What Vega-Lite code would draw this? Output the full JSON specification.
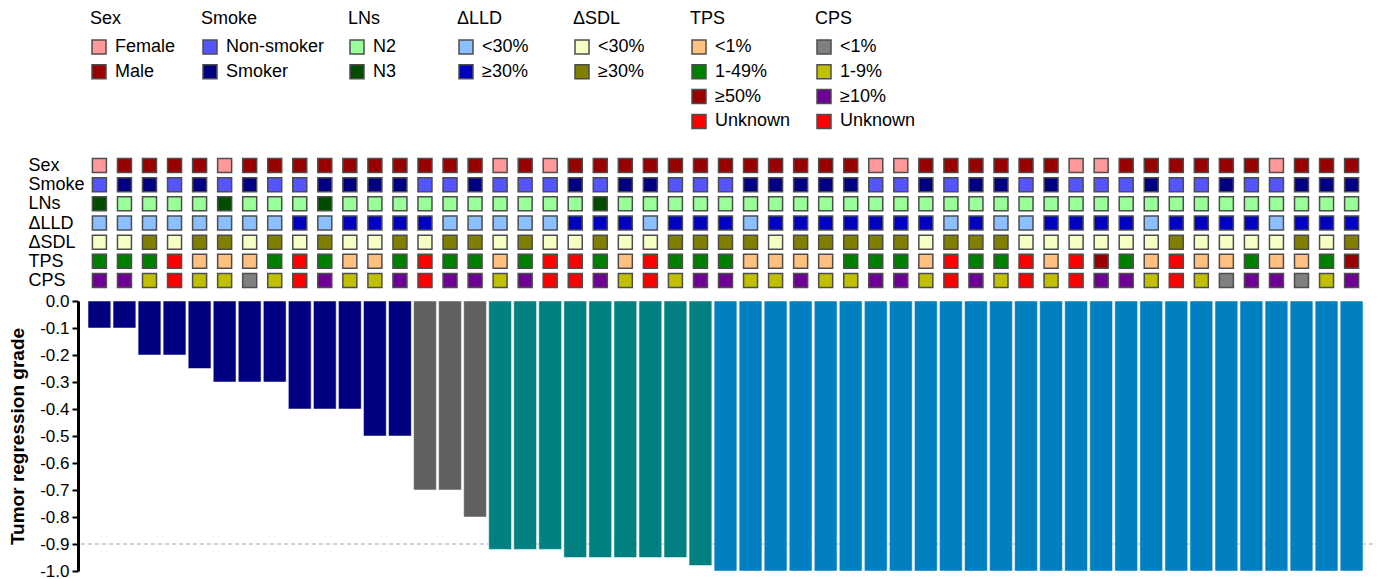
{
  "$schema": "https://vega.github.io/schema/vega-lite/v6.json",
  "padding": {"left": 8, "top": 10, "right": 0, "bottom": 0},
  "spacing": 1,
  "config": {
    "font": "Liberation Sans",
    "view": {"stroke": null},
    "axis": {"domain": true, "ticks": true, "domainColor": "black", "tickColor": "black"},
    "legend": {
      "orient": "none",
      "padding": 0,
      "titleFontSize": 18,
      "titleFontWeight": "normal",
      "titleColor": "black",
      "titlePadding": 10,
      "labelFontSize": 18,
      "labelColor": "black",
      "labelOffset": 7,
      "labelLimit": 200,
      "rowPadding": 4.8,
      "symbolType": "square",
      "symbolSize": 196,
      "symbolStrokeColor": "#4d4d4d",
      "symbolStrokeWidth": 1.5,
      "symbolOpacity": 1
    }
  },
  "data": {
    "values": [
      {"id": 1, "grade": -0.1, "resp": "Non-MPR (<60%)", "Sex": "Female", "Smoke": "Non-smoker", "LNs": "N3", "LLD": "<30%", "SDL": "<30%", "TPS": "1-49%", "CPS": "≥10%"},
      {"id": 2, "grade": -0.1, "resp": "Non-MPR (<60%)", "Sex": "Male", "Smoke": "Smoker", "LNs": "N2", "LLD": "<30%", "SDL": "<30%", "TPS": "1-49%", "CPS": "≥10%"},
      {"id": 3, "grade": -0.2, "resp": "Non-MPR (<60%)", "Sex": "Male", "Smoke": "Smoker", "LNs": "N2", "LLD": "<30%", "SDL": "≥30%", "TPS": "1-49%", "CPS": "1-9%"},
      {"id": 4, "grade": -0.2, "resp": "Non-MPR (<60%)", "Sex": "Male", "Smoke": "Non-smoker", "LNs": "N2", "LLD": "<30%", "SDL": "<30%", "TPS": "Unknown", "CPS": "Unknown"},
      {"id": 5, "grade": -0.25, "resp": "Non-MPR (<60%)", "Sex": "Male", "Smoke": "Smoker", "LNs": "N2", "LLD": "<30%", "SDL": "≥30%", "TPS": "<1%", "CPS": "1-9%"},
      {"id": 6, "grade": -0.3, "resp": "Non-MPR (<60%)", "Sex": "Female", "Smoke": "Non-smoker", "LNs": "N3", "LLD": "<30%", "SDL": "≥30%", "TPS": "<1%", "CPS": "1-9%"},
      {"id": 7, "grade": -0.3, "resp": "Non-MPR (<60%)", "Sex": "Male", "Smoke": "Smoker", "LNs": "N2", "LLD": "<30%", "SDL": "<30%", "TPS": "<1%", "CPS": "<1%"},
      {"id": 8, "grade": -0.3, "resp": "Non-MPR (<60%)", "Sex": "Male", "Smoke": "Non-smoker", "LNs": "N2", "LLD": "<30%", "SDL": "≥30%", "TPS": "1-49%", "CPS": "1-9%"},
      {"id": 9, "grade": -0.4, "resp": "Non-MPR (<60%)", "Sex": "Male", "Smoke": "Non-smoker", "LNs": "N2", "LLD": "≥30%", "SDL": "<30%", "TPS": "Unknown", "CPS": "Unknown"},
      {"id": 10, "grade": -0.4, "resp": "Non-MPR (<60%)", "Sex": "Male", "Smoke": "Smoker", "LNs": "N3", "LLD": "<30%", "SDL": "≥30%", "TPS": "1-49%", "CPS": "≥10%"},
      {"id": 11, "grade": -0.4, "resp": "Non-MPR (<60%)", "Sex": "Male", "Smoke": "Smoker", "LNs": "N2", "LLD": "≥30%", "SDL": "<30%", "TPS": "<1%", "CPS": "1-9%"},
      {"id": 12, "grade": -0.5, "resp": "Non-MPR (<60%)", "Sex": "Male", "Smoke": "Smoker", "LNs": "N2", "LLD": "≥30%", "SDL": "<30%", "TPS": "<1%", "CPS": "1-9%"},
      {"id": 13, "grade": -0.5, "resp": "Non-MPR (<60%)", "Sex": "Male", "Smoke": "Smoker", "LNs": "N2", "LLD": "≥30%", "SDL": "≥30%", "TPS": "1-49%", "CPS": "≥10%"},
      {"id": 14, "grade": -0.7, "resp": "Non-MPR (60-89%)", "Sex": "Male", "Smoke": "Non-smoker", "LNs": "N2", "LLD": "≥30%", "SDL": "<30%", "TPS": "Unknown", "CPS": "Unknown"},
      {"id": 15, "grade": -0.7, "resp": "Non-MPR (60-89%)", "Sex": "Male", "Smoke": "Non-smoker", "LNs": "N2", "LLD": "<30%", "SDL": "≥30%", "TPS": "1-49%", "CPS": "≥10%"},
      {"id": 16, "grade": -0.8, "resp": "Non-MPR (60-89%)", "Sex": "Male", "Smoke": "Smoker", "LNs": "N2", "LLD": "<30%", "SDL": "≥30%", "TPS": "1-49%", "CPS": "≥10%"},
      {"id": 17, "grade": -0.92, "resp": "MPR", "Sex": "Female", "Smoke": "Non-smoker", "LNs": "N2", "LLD": "<30%", "SDL": "<30%", "TPS": "<1%", "CPS": "1-9%"},
      {"id": 18, "grade": -0.92, "resp": "MPR", "Sex": "Male", "Smoke": "Non-smoker", "LNs": "N2", "LLD": "<30%", "SDL": "≥30%", "TPS": "1-49%", "CPS": "≥10%"},
      {"id": 19, "grade": -0.92, "resp": "MPR", "Sex": "Female", "Smoke": "Non-smoker", "LNs": "N2", "LLD": "<30%", "SDL": "<30%", "TPS": "Unknown", "CPS": "Unknown"},
      {"id": 20, "grade": -0.95, "resp": "MPR", "Sex": "Male", "Smoke": "Smoker", "LNs": "N2", "LLD": "≥30%", "SDL": "<30%", "TPS": "Unknown", "CPS": "Unknown"},
      {"id": 21, "grade": -0.95, "resp": "MPR", "Sex": "Male", "Smoke": "Non-smoker", "LNs": "N3", "LLD": "≥30%", "SDL": "≥30%", "TPS": "1-49%", "CPS": "≥10%"},
      {"id": 22, "grade": -0.95, "resp": "MPR", "Sex": "Male", "Smoke": "Smoker", "LNs": "N2", "LLD": "≥30%", "SDL": "<30%", "TPS": "<1%", "CPS": "1-9%"},
      {"id": 23, "grade": -0.95, "resp": "MPR", "Sex": "Male", "Smoke": "Smoker", "LNs": "N2", "LLD": "<30%", "SDL": "<30%", "TPS": "Unknown", "CPS": "Unknown"},
      {"id": 24, "grade": -0.95, "resp": "MPR", "Sex": "Male", "Smoke": "Non-smoker", "LNs": "N2", "LLD": "≥30%", "SDL": "≥30%", "TPS": "1-49%", "CPS": "1-9%"},
      {"id": 25, "grade": -0.98, "resp": "MPR", "Sex": "Male", "Smoke": "Non-smoker", "LNs": "N2", "LLD": "≥30%", "SDL": "≥30%", "TPS": "1-49%", "CPS": "≥10%"},
      {"id": 26, "grade": -1.0, "resp": "pCR", "Sex": "Male", "Smoke": "Non-smoker", "LNs": "N2", "LLD": "≥30%", "SDL": "≥30%", "TPS": "1-49%", "CPS": "≥10%"},
      {"id": 27, "grade": -1.0, "resp": "pCR", "Sex": "Male", "Smoke": "Smoker", "LNs": "N2", "LLD": "<30%", "SDL": "≥30%", "TPS": "<1%", "CPS": "1-9%"},
      {"id": 28, "grade": -1.0, "resp": "pCR", "Sex": "Male", "Smoke": "Smoker", "LNs": "N2", "LLD": "≥30%", "SDL": "<30%", "TPS": "<1%", "CPS": "1-9%"},
      {"id": 29, "grade": -1.0, "resp": "pCR", "Sex": "Male", "Smoke": "Smoker", "LNs": "N2", "LLD": "≥30%", "SDL": "≥30%", "TPS": "<1%", "CPS": "≥10%"},
      {"id": 30, "grade": -1.0, "resp": "pCR", "Sex": "Male", "Smoke": "Smoker", "LNs": "N2", "LLD": "≥30%", "SDL": "≥30%", "TPS": "<1%", "CPS": "1-9%"},
      {"id": 31, "grade": -1.0, "resp": "pCR", "Sex": "Male", "Smoke": "Smoker", "LNs": "N2", "LLD": "≥30%", "SDL": "≥30%", "TPS": "1-49%", "CPS": "1-9%"},
      {"id": 32, "grade": -1.0, "resp": "pCR", "Sex": "Female", "Smoke": "Non-smoker", "LNs": "N2", "LLD": "≥30%", "SDL": "≥30%", "TPS": "1-49%", "CPS": "≥10%"},
      {"id": 33, "grade": -1.0, "resp": "pCR", "Sex": "Female", "Smoke": "Non-smoker", "LNs": "N2", "LLD": "≥30%", "SDL": "≥30%", "TPS": "1-49%", "CPS": "≥10%"},
      {"id": 34, "grade": -1.0, "resp": "pCR", "Sex": "Male", "Smoke": "Smoker", "LNs": "N2", "LLD": "≥30%", "SDL": "<30%", "TPS": "<1%", "CPS": "1-9%"},
      {"id": 35, "grade": -1.0, "resp": "pCR", "Sex": "Male", "Smoke": "Non-smoker", "LNs": "N2", "LLD": "<30%", "SDL": "≥30%", "TPS": "Unknown", "CPS": "Unknown"},
      {"id": 36, "grade": -1.0, "resp": "pCR", "Sex": "Male", "Smoke": "Smoker", "LNs": "N2", "LLD": "≥30%", "SDL": "≥30%", "TPS": "1-49%", "CPS": "≥10%"},
      {"id": 37, "grade": -1.0, "resp": "pCR", "Sex": "Male", "Smoke": "Smoker", "LNs": "N2", "LLD": "<30%", "SDL": "≥30%", "TPS": "1-49%", "CPS": "1-9%"},
      {"id": 38, "grade": -1.0, "resp": "pCR", "Sex": "Male", "Smoke": "Non-smoker", "LNs": "N2", "LLD": "<30%", "SDL": "<30%", "TPS": "Unknown", "CPS": "Unknown"},
      {"id": 39, "grade": -1.0, "resp": "pCR", "Sex": "Male", "Smoke": "Smoker", "LNs": "N2", "LLD": "≥30%", "SDL": "<30%", "TPS": "<1%", "CPS": "1-9%"},
      {"id": 40, "grade": -1.0, "resp": "pCR", "Sex": "Female", "Smoke": "Non-smoker", "LNs": "N2", "LLD": "≥30%", "SDL": "<30%", "TPS": "Unknown", "CPS": "Unknown"},
      {"id": 41, "grade": -1.0, "resp": "pCR", "Sex": "Female", "Smoke": "Non-smoker", "LNs": "N2", "LLD": "≥30%", "SDL": "<30%", "TPS": "≥50%", "CPS": "≥10%"},
      {"id": 42, "grade": -1.0, "resp": "pCR", "Sex": "Male", "Smoke": "Non-smoker", "LNs": "N2", "LLD": "≥30%", "SDL": "<30%", "TPS": "1-49%", "CPS": "≥10%"},
      {"id": 43, "grade": -1.0, "resp": "pCR", "Sex": "Male", "Smoke": "Smoker", "LNs": "N2", "LLD": "<30%", "SDL": "<30%", "TPS": "<1%", "CPS": "1-9%"},
      {"id": 44, "grade": -1.0, "resp": "pCR", "Sex": "Male", "Smoke": "Non-smoker", "LNs": "N2", "LLD": "≥30%", "SDL": "≥30%", "TPS": "Unknown", "CPS": "Unknown"},
      {"id": 45, "grade": -1.0, "resp": "pCR", "Sex": "Male", "Smoke": "Non-smoker", "LNs": "N2", "LLD": "≥30%", "SDL": "<30%", "TPS": "<1%", "CPS": "1-9%"},
      {"id": 46, "grade": -1.0, "resp": "pCR", "Sex": "Male", "Smoke": "Smoker", "LNs": "N2", "LLD": "≥30%", "SDL": "<30%", "TPS": "<1%", "CPS": "<1%"},
      {"id": 47, "grade": -1.0, "resp": "pCR", "Sex": "Male", "Smoke": "Non-smoker", "LNs": "N2", "LLD": "≥30%", "SDL": "<30%", "TPS": "1-49%", "CPS": "≥10%"},
      {"id": 48, "grade": -1.0, "resp": "pCR", "Sex": "Female", "Smoke": "Non-smoker", "LNs": "N2", "LLD": "<30%", "SDL": "<30%", "TPS": "<1%", "CPS": "≥10%"},
      {"id": 49, "grade": -1.0, "resp": "pCR", "Sex": "Male", "Smoke": "Smoker", "LNs": "N2", "LLD": "≥30%", "SDL": "≥30%", "TPS": "<1%", "CPS": "<1%"},
      {"id": 50, "grade": -1.0, "resp": "pCR", "Sex": "Male", "Smoke": "Smoker", "LNs": "N2", "LLD": "≥30%", "SDL": "<30%", "TPS": "1-49%", "CPS": "1-9%"},
      {"id": 51, "grade": -1.0, "resp": "pCR", "Sex": "Male", "Smoke": "Smoker", "LNs": "N2", "LLD": "≥30%", "SDL": "≥30%", "TPS": "≥50%", "CPS": "≥10%"}
    ]
  },
  "vconcat": [
    {
      "width": 1295,
      "height": 134,
      "encoding": {
        "x": {
          "field": "id",
          "type": "ordinal",
          "scale": {"type": "band", "paddingInner": 0.09, "paddingOuter": 0.4},
          "axis": null
        },
        "y": {
          "field": "row",
          "type": "nominal",
          "scale": {"domain": ["Sex", "Smoke", "LNs", "LLD", "SDL", "TPS", "CPS"]},
          "axis": {
            "title": null,
            "domain": false,
            "ticks": false,
            "labelAlign": "left",
            "labelPadding": 50,
            "labelFontSize": 18,
            "labelColor": "black",
            "labelExpr": "datum.label == 'LLD' || datum.label == 'SDL' ? 'Δ' + datum.label : datum.label"
          }
        }
      },
      "layer": [
        {
          "transform": [{"fold": ["Sex"], "as": ["row", "level"]}],
          "mark": {"type": "square", "size": 196, "opacity": 1, "filled": true, "stroke": "#4d4d4d", "strokeWidth": 1.5},
          "encoding": {
            "color": {
              "field": "level", "type": "nominal",
              "scale": {"domain": ["Female", "Male"], "range": ["#ff9999", "#990000"]},
              "legend": {"title": "Sex", "legendX": 12, "legendY": -146}
            }
          }
        },
        {
          "transform": [{"fold": ["Smoke"], "as": ["row", "level"]}],
          "mark": {"type": "square", "size": 196, "opacity": 1, "filled": true, "stroke": "#4d4d4d", "strokeWidth": 1.5},
          "encoding": {
            "color": {
              "field": "level", "type": "nominal",
              "scale": {"domain": ["Non-smoker", "Smoker"], "range": ["#5555ff", "#000080"]},
              "legend": {"title": "Smoke", "legendX": 123, "legendY": -146}
            }
          }
        },
        {
          "transform": [{"fold": ["LNs"], "as": ["row", "level"]}],
          "mark": {"type": "square", "size": 196, "opacity": 1, "filled": true, "stroke": "#4d4d4d", "strokeWidth": 1.5},
          "encoding": {
            "color": {
              "field": "level", "type": "nominal",
              "scale": {"domain": ["N2", "N3"], "range": ["#99ff99", "#004d00"]},
              "legend": {"title": "LNs", "legendX": 270, "legendY": -146}
            }
          }
        },
        {
          "transform": [{"fold": ["LLD"], "as": ["row", "level"]}],
          "mark": {"type": "square", "size": 196, "opacity": 1, "filled": true, "stroke": "#4d4d4d", "strokeWidth": 1.5},
          "encoding": {
            "color": {
              "field": "level", "type": "nominal",
              "scale": {"domain": ["<30%", "≥30%"], "range": ["#8cbfff", "#0000c0"]},
              "legend": {"title": "ΔLLD", "legendX": 379, "legendY": -146}
            }
          }
        },
        {
          "transform": [{"fold": ["SDL"], "as": ["row", "level"]}],
          "mark": {"type": "square", "size": 196, "opacity": 1, "filled": true, "stroke": "#4d4d4d", "strokeWidth": 1.5},
          "encoding": {
            "color": {
              "field": "level", "type": "nominal",
              "scale": {"domain": ["<30%", "≥30%"], "range": ["#f5ffc4", "#808000"]},
              "legend": {"title": "ΔSDL", "legendX": 495, "legendY": -146}
            }
          }
        },
        {
          "transform": [{"fold": ["TPS"], "as": ["row", "level"]}],
          "mark": {"type": "square", "size": 196, "opacity": 1, "filled": true, "stroke": "#4d4d4d", "strokeWidth": 1.5},
          "encoding": {
            "color": {
              "field": "level", "type": "nominal",
              "scale": {"domain": ["<1%", "1-49%", "≥50%", "Unknown"], "range": ["#ffc080", "#008000", "#990000", "#ff0000"]},
              "legend": {"title": "TPS", "legendX": 612, "legendY": -146}
            }
          }
        },
        {
          "transform": [{"fold": ["CPS"], "as": ["row", "level"]}],
          "mark": {"type": "square", "size": 196, "opacity": 1, "filled": true, "stroke": "#4d4d4d", "strokeWidth": 1.5},
          "encoding": {
            "color": {
              "field": "level", "type": "nominal",
              "scale": {"domain": ["<1%", "1-9%", "≥10%", "Unknown"], "range": ["#808080", "#c0c000", "#6f0096", "#ff0000"]},
              "legend": {"title": "CPS", "legendX": 737, "legendY": -146}
            }
          }
        }
      ],
      "resolve": {"scale": {"color": "independent"}, "legend": {"color": "independent"}}
    },
    {
      "width": 1295,
      "height": 270,
      "layer": [
        {
          "data": {"values": [{"threshold": -0.9}]},
          "mark": {"type": "rule", "color": "#a6a6a6", "strokeDash": [4, 3], "strokeWidth": 1},
          "encoding": {
            "y": {
              "field": "threshold",
              "type": "quantitative",
              "scale": {"domain": [-1, 0], "nice": false},
              "axis": {
                "title": "Tumor regression grade",
                "titleFontSize": 19,
                "titleFontWeight": "bold",
                "titleColor": "black",
                "titlePadding": 12,
                "values": [0, -0.1, -0.2, -0.3, -0.4, -0.5, -0.6, -0.7, -0.8, -0.9, -1],
                "labelExpr": "datum.value < 0 ? '-' + format(-datum.value, '.1f') : format(datum.value, '.1f')",
                "labelFontSize": 17,
                "labelColor": "black",
                "labelPadding": 3,
                "labelFlush": false,
                "labelOverlap": false,
                "domain": true,
                "ticks": true,
                "tickSize": 6,
                "tickWidth": 2,
                "tickColor": "black",
                "tickOpacity": 1,
                "domainColor": "black",
                "domainWidth": 3,
                "domainOpacity": 1,
                "grid": false,
                "zindex": 2
              }
            }
          }
        },
        {
          "mark": {"type": "bar", "stroke": "white", "strokeWidth": 1, "strokeOpacity": 0.5},
          "encoding": {
            "x": {
              "field": "id",
              "type": "ordinal",
              "scale": {"type": "band", "paddingInner": 0.09, "paddingOuter": 0.4},
              "axis": null
            },
            "y": {
              "field": "grade",
              "type": "quantitative",
              "scale": {"domain": [-1, 0], "nice": false},
              "axis": {
                "title": "Tumor regression grade",
                "titleFontSize": 19,
                "titleFontWeight": "bold",
                "titleColor": "black",
                "titlePadding": 12,
                "values": [0, -0.1, -0.2, -0.3, -0.4, -0.5, -0.6, -0.7, -0.8, -0.9, -1],
                "labelExpr": "datum.value < 0 ? '-' + format(-datum.value, '.1f') : format(datum.value, '.1f')",
                "labelFontSize": 17,
                "labelColor": "black",
                "labelPadding": 3,
                "labelFlush": false,
                "labelOverlap": false,
                "domain": true,
                "ticks": true,
                "tickSize": 6,
                "tickWidth": 2,
                "tickColor": "black",
                "tickOpacity": 1,
                "domainColor": "black",
                "domainWidth": 3,
                "domainOpacity": 1,
                "grid": false,
                "zindex": 2
              }
            },
            "color": {
              "field": "resp",
              "type": "nominal",
              "scale": {"domain": ["Non-MPR (<60%)", "Non-MPR (60-89%)", "MPR", "pCR"], "range": ["#000080", "#606060", "#008080", "#0080c0"]},
              "legend": null
            }
          }
        }
      ]
    }
  ],
  "resolve": {"scale": {"color": "independent"}, "legend": {"color": "independent"}}
}
